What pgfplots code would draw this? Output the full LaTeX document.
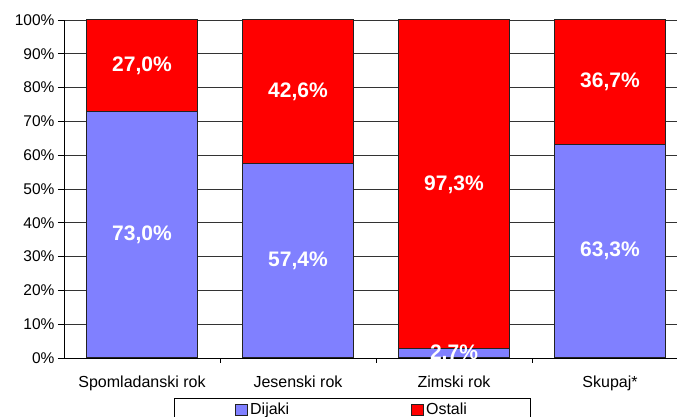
\documentclass[border=0pt]{standalone}
\usepackage{pgfplots}
\pgfplotsset{compat=1.18}
\usepackage{fontspec}
\setmainfont{Liberation Sans}
\definecolor{dij}{HTML}{8080FF}
\definecolor{ost}{HTML}{FF0000}
\definecolor{edge}{HTML}{222222}
\begin{document}
\begin{tikzpicture}
\useasboundingbox (0,0) rectangle (677pt,417pt);
\begin{axis}[
  at={(64pt,59pt)}, anchor=south west,
  scale only axis, width=613pt, height=338pt,
  xmin=-0.5, xmax=3.4295, ymin=0, ymax=100,
  clip=false,
  axis x line*=bottom, axis y line*=left,
  axis line style={black, line width=0.8pt},
  xtick={0,1,2,3},
  xticklabels={Spomladanski rok, Jesenski rok, Zimski rok, Skupaj*},
  minor xtick={0.5,1.5,2.5},
  major x tick style={draw=none},
  minor x tick style={black, line width=0.8pt},
  minor tick length=5pt,
  ytick={0,10,...,100},
  yticklabels={0\%,10\%,20\%,30\%,40\%,50\%,60\%,70\%,80\%,90\%,100\%},
  major tick length=6pt,
  tick align=outside,
  y tick style={black, line width=0.8pt},
  ymajorgrids,
  major grid style={draw=black!80, line width=0.8pt},
  yticklabel style={font=\fontsize{15.5}{18}\selectfont},
  xticklabel style={font=\fontsize{16}{19}\selectfont, yshift=-8pt},
  legend columns=2,
  legend style={at={(axis description cs:0.1794,-0.1183)}, anchor=north west,
    draw=black, line width=0.8pt, inner xsep=61pt, inner ysep=3pt,
    font=\fontsize{16}{19}\selectfont,
    /tikz/every even column/.append style={column sep=120pt}},
  legend image code/.code={\draw[#1, draw=edge, line width=0.8pt] (0pt,-5.5pt) rectangle (12pt,6pt);},
]
\addlegendimage{fill=dij}
\addlegendentry{Dijaki}
\addlegendimage{fill=ost}
\addlegendentry{Ostali}
\addplot[forget plot, ybar, bar width=111pt, bar shift=0pt, fill=ost, draw=edge, line width=1pt]
  coordinates {(0,100) (1,100) (2,100) (3,100)};
\addplot[forget plot, ybar, bar width=111pt, bar shift=0pt, fill=dij, draw=edge, line width=1pt]
  coordinates {(0,73.0) (1,57.4) (2,2.7) (3,63.3)};
\addplot[forget plot, draw=none, mark=none, nodes near coords, point meta=explicit symbolic,
  nodes near coords style={anchor=center, text=white, font=\fontsize{21}{24}\selectfont\bfseries}]
  coordinates {(0,36.5) [73,0\%] (1,28.7) [57,4\%] (2,1.35) [2,7\%] (3,31.65) [63,3\%]
               (0,86.5) [27,0\%] (1,78.7) [42,6\%] (2,51.35) [97,3\%] (3,81.65) [36,7\%]};
\end{axis}
\end{tikzpicture}
\end{document}
